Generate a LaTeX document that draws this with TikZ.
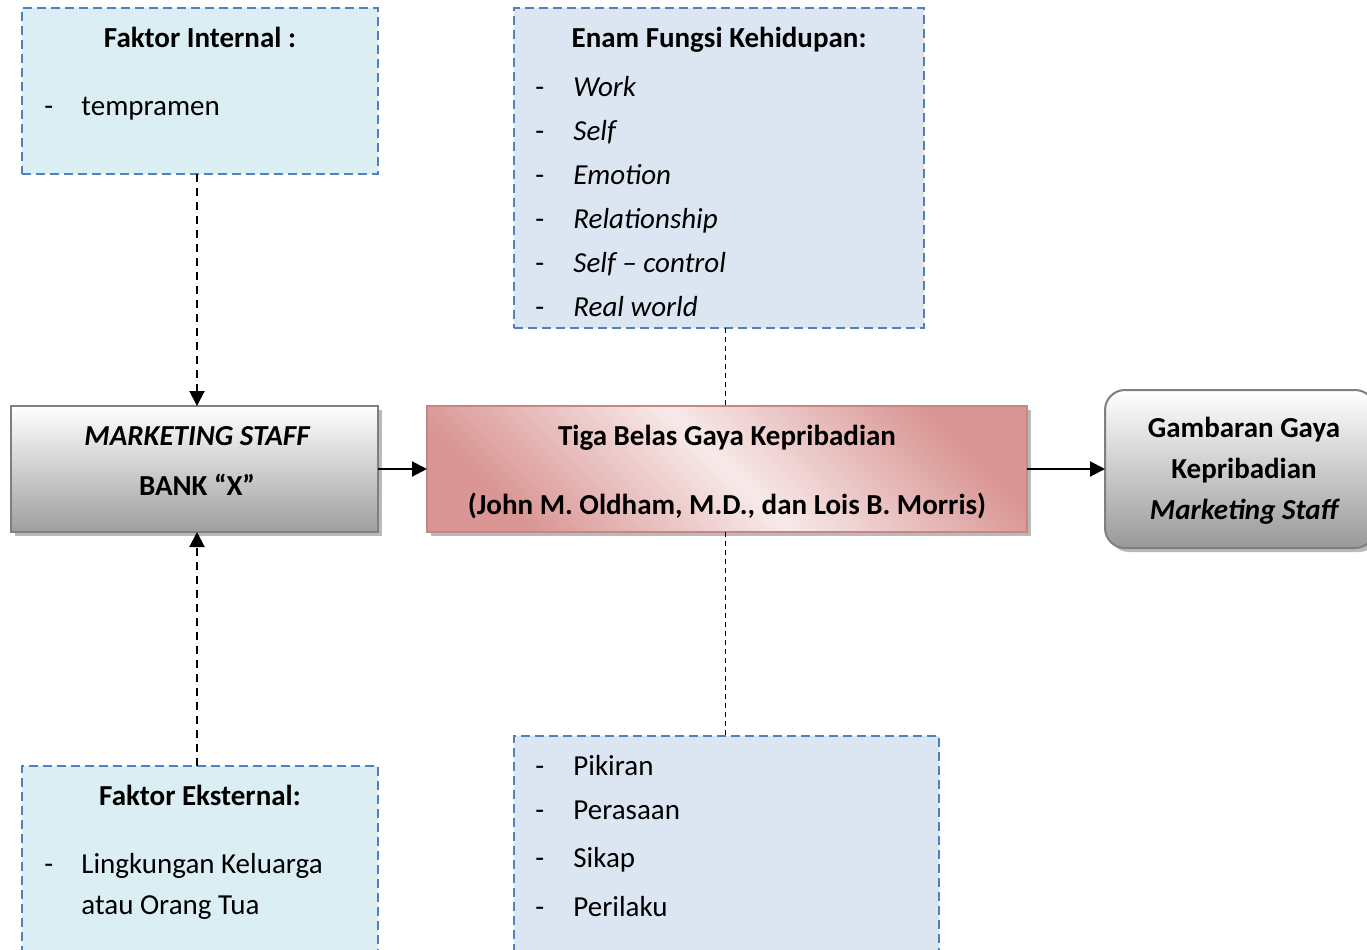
\documentclass[tikz,border=0pt]{standalone}
\usepackage{fontspec}
\setmainfont{Carlito}
\usetikzlibrary{arrows.meta,shadows}
\definecolor{boxblue}{HTML}{4F81BD}
\definecolor{intfill}{HTML}{DBEEF4}
\definecolor{enamfill}{HTML}{DCE6F2}
\definecolor{greyline}{HTML}{7F7F7F}
\definecolor{pinklight}{HTML}{F2DCDB}
\definecolor{pinkdark}{HTML}{D99694}
\tikzset{
  infobox/.style={draw=boxblue, line width=1pt, dash pattern=on 4.5pt off 2.5pt,
    inner sep=0pt, outer sep=0pt, anchor=north west},
  staffbox/.style={draw=greyline, line width=1pt, top color=white, bottom color=black!38,
    inner sep=0pt, outer sep=0pt, anchor=north west,
    drop shadow={shadow xshift=2pt, shadow yshift=-2pt, fill=black!45, opacity=.6}},
  theorybox/.style={draw=pinkdark!90!black, line width=0.6pt, top color=pinkdark, bottom color=pinkdark,
    middle color=pinklight!60!white, shading angle=-45,
    inner sep=0pt, outer sep=0pt, anchor=north west,
    drop shadow={shadow xshift=2pt, shadow yshift=-2pt, fill=black!45, opacity=.6}},
  resultbox/.style={staffbox, rounded corners=10pt, top color=white, bottom color=black!40},
  flowarrow/.style={line width=1pt, -{Triangle[length=7.5pt,width=7.5pt]}},
  factorarrow/.style={line width=1pt, dash pattern=on 4pt off 3pt, -{Triangle[length=7.5pt,width=7.5pt]}},
  thinlink/.style={line width=0.5pt, dash pattern=on 2.5pt off 2pt},
  title/.style={font=\fontsize{14.5}{17}\selectfont\bfseries, anchor=mid, yshift=-2.5pt},
  item/.style={font=\fontsize{14.5}{17}\selectfont, anchor=mid west, inner sep=0pt, yshift=-2.5pt}
}
\begin{document}
\begin{tikzpicture}[x=0.5pt, y=-0.5pt]
\useasboundingbox (0,0) rectangle (1367,949);
\clip (0,0) rectangle (1367,949);

% faktor boxes
\node[infobox, fill=intfill, minimum width=178pt, minimum height=83pt] (intbox) at (22,8) {};
\node[infobox, fill=intfill, minimum width=178pt, minimum height=100pt] (ekstbox) at (22,766) {};
\node[infobox, fill=enamfill, minimum width=205pt, minimum height=160pt] (enambox) at (514,8) {};
\node[infobox, fill=enamfill, minimum width=212.5pt, minimum height=115pt] (sikapbox) at (514,736) {};

\node[title] (inttitle) at (200,38) {Faktor Internal :};
\node[item] (intdash) at (44,106) {-};
\node[item] (intitem) at (81,106) {tempramen};

\node[title] (eksttitle) at (200,796) {Faktor Eksternal:};
\node[item] (ekstdash) at (44,864) {-};
\node[item] (ekstitem1) at (81,864) {Lingkungan Keluarga};
\node[item] (ekstitem2) at (81,905) {atau Orang Tua};

\node[title] (enamtitle) at (719,38) {Enam Fungsi Kehidupan:};
\foreach \y/\t [count=\i] in {87/Work, 131/Self, 175/Emotion, 219/Relationship,
    263/Self \textendash{} control, 307/Real world}{
  \node[item] (enamdash\i) at (535,\y) {-};
  \node[item] (enam\i) at (573,\y) {\itshape \t};
}
\foreach \y/\t [count=\i] in {766/Pikiran, 810/Perasaan, 858/Sikap, 907/Perilaku}{
  \node[item] (sikapdash\i) at (535,\y) {-};
  \node[item] (sikap\i) at (573,\y) {\t};
}

% main row
\node[staffbox, minimum width=183.5pt, minimum height=63pt] (staff) at (11,406) {};
\node[title] (staff1) at (197,436) {\itshape MARKETING STAFF};
\node[title] (staff2) at (197,486) {BANK “X”};

\node[theorybox, minimum width=300pt, minimum height=63pt] (theory) at (427,406) {};
\node[title] (theory1) at (727,436) {Tiga Belas Gaya Kepribadian};
\node[title] (theory2) at (727,505) {(John M. Oldham, M.D., dan Lois B. Morris)};

\node[resultbox, minimum width=135pt, minimum height=79pt] (result) at (1105,390) {};
\node[title] (result1) at (1244,428) {Gambaran Gaya};
\node[title] (result2) at (1244,469) {Kepribadian};
\node[title] (result3) at (1244,510) {\itshape Marketing Staff};

% connectors
\draw[flowarrow] (staff.east) -- (theory.west);
\draw[flowarrow] (theory.east) -- (result.west);
\draw[factorarrow] (intbox.south -| staff1) -- (staff.north -| staff1);
\draw[factorarrow] (ekstbox.north -| staff1) -- (staff.south -| staff1);
\draw[thinlink] (enambox.south -| 725,0) -- (theory.north -| 725,0);
\draw[thinlink] (theory.south -| 725,0) -- (sikapbox.north -| 725,0);
\end{tikzpicture}
\end{document}
